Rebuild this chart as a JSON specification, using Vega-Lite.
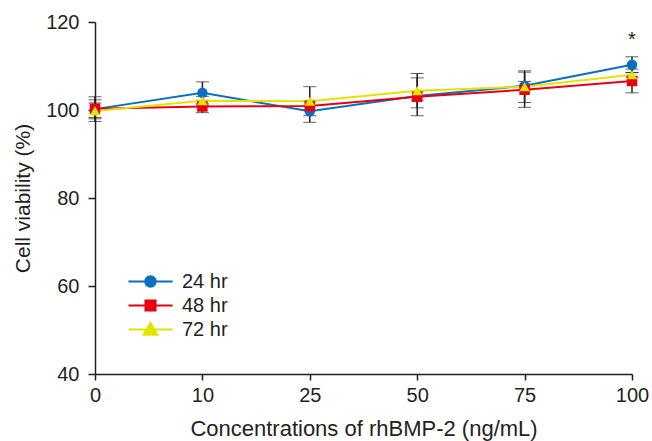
{
  "$schema": "https://vega.github.io/schema/vega-lite/v6.json",
  "width": 537,
  "height": 352,
  "autosize": {"type": "none"},
  "padding": {"left": 95, "top": 22, "right": 20, "bottom": 67},
  "background": "white",
  "config": {
    "view": {"stroke": null},
    "font": "Liberation Sans",
    "legend": {"padding": 0}
  },
  "resolve": {"legend": {"color": "independent", "shape": "independent"}},
  "data": {
    "values": [
      {"conc": "0", "series": "24 hr", "v": 100.2, "lo": 97.4, "hi": 103.0},
      {"conc": "10", "series": "24 hr", "v": 103.9, "lo": 101.4, "hi": 106.4},
      {"conc": "25", "series": "24 hr", "v": 99.7, "lo": 97.2, "hi": 102.2},
      {"conc": "50", "series": "24 hr", "v": 103.2, "lo": 102.2, "hi": 104.2},
      {"conc": "75", "series": "24 hr", "v": 105.5, "lo": 104.5, "hi": 106.5},
      {"conc": "100", "series": "24 hr", "v": 110.3, "lo": 108.5, "hi": 112.1},
      {"conc": "0", "series": "48 hr", "v": 100.3, "lo": 98.3, "hi": 102.3},
      {"conc": "10", "series": "48 hr", "v": 100.8, "lo": 99.4, "hi": 102.2},
      {"conc": "25", "series": "48 hr", "v": 100.9, "lo": 99.9, "hi": 101.9},
      {"conc": "50", "series": "48 hr", "v": 103.0, "lo": 98.7, "hi": 107.3},
      {"conc": "75", "series": "48 hr", "v": 104.6, "lo": 100.6, "hi": 108.6},
      {"conc": "100", "series": "48 hr", "v": 106.6, "lo": 103.9, "hi": 109.3},
      {"conc": "0", "series": "72 hr", "v": 99.8, "lo": 98.0, "hi": 101.6},
      {"conc": "10", "series": "72 hr", "v": 102.1, "lo": 101.1, "hi": 103.1},
      {"conc": "25", "series": "72 hr", "v": 102.0, "lo": 98.7, "hi": 105.3},
      {"conc": "50", "series": "72 hr", "v": 104.4, "lo": 100.5, "hi": 108.3},
      {"conc": "75", "series": "72 hr", "v": 105.3, "lo": 101.7, "hi": 108.9},
      {"conc": "100", "series": "72 hr", "v": 108.0, "lo": 107.5, "hi": 108.5}
    ]
  },
  "encoding": {
    "x": {
      "field": "conc", "type": "ordinal",
      "sort": ["0", "10", "25", "50", "75", "100"],
      "scale": {"type": "point", "padding": 0},
      "axis": {"title": "Concentrations of rhBMP-2 (ng/mL)", "labelAngle": 0, "tickSize": 6, "labelPadding": 5, "titlePadding": 13,
        "grid": false, "domainColor": "#231f20", "tickColor": "#231f20", "labelColor": "#231f20", "titleColor": "#231f20",
        "labelFont": "Liberation Sans", "titleFont": "Liberation Sans", "titleFontWeight": "normal", "labelFontSize": 20, "titleFontSize": 22, "domainWidth": 1.5, "tickWidth": 1.5}
    }
  },
  "layer": [
    {
      "mark": {"type": "errorbar", "ticks": {"size": 13, "color": "#231f20", "strokeWidth": 1.5}, "rule": {"color": "#231f20", "strokeWidth": 1.5}},
      "encoding": {
        "y": {"field": "lo", "type": "quantitative", "scale": {"domain": [40, 120]}, "axis": {"title": "Cell viability (%)", "values": [40, 60, 80, 100, 120], "tickSize": 7, "labelPadding": 9, "titlePadding": 12,
          "grid": false, "domainColor": "#231f20", "tickColor": "#231f20", "labelColor": "#231f20", "titleColor": "#231f20",
          "labelFont": "Liberation Sans", "titleFont": "Liberation Sans", "titleFontWeight": "normal", "labelFontSize": 20, "titleFontSize": 21, "domainWidth": 1.5, "tickWidth": 1.5}},
        "y2": {"field": "hi"},
        "detail": {"field": "series"}
      }
    },
    {
      "mark": {"type": "line", "strokeWidth": 2},
      "encoding": {
        "y": {"field": "v", "type": "quantitative"},
        "color": {"field": "series", "type": "nominal", "scale": {"domain": ["24 hr", "48 hr", "72 hr"], "range": ["#0b6fc0", "#e60012", "#e2e400"]},
          "legend": {
            "title": null, "orient": "none", "legendX": 44, "legendY": 248,
            "symbolSize": 441, "labelFontSize": 20, "labelColor": "#231f20", "labelFont": "Liberation Sans", "labelOffset": 20, "rowPadding": 2,
            "encode": {"symbols": {"update": {
              "shape": {"signal": "datum.value === '24 hr' ? 'M-2.1,0H2.1M0.5,0A0.5,0.5,0,1,1,-0.5,0A0.5,0.5,0,1,1,0.5,0Z' : datum.value === '48 hr' ? 'M-2.1,0H2.1M-0.48,-0.48H0.48V0.48H-0.48Z' : 'M-2.1,0H2.1M0,-0.62L0.66,0.5H-0.66Z'"},
              "stroke": {"signal": "datum.value === '24 hr' ? '#0b6fc0' : datum.value === '48 hr' ? '#e60012' : '#e2e400'"},
              "fill": {"signal": "datum.value === '24 hr' ? '#0b6fc0' : datum.value === '48 hr' ? '#e60012' : '#e2e400'"},
              "strokeWidth": {"value": 2},
              "opacity": {"value": 1}
            }}}
          }}
      }
    },
    {
      "mark": {"type": "point", "filled": true, "opacity": 1},
      "encoding": {
        "y": {"field": "v", "type": "quantitative"},
        "color": {"field": "series", "type": "nominal", "legend": null},
        "shape": {"field": "series", "type": "nominal", "scale": {"domain": ["24 hr", "48 hr", "72 hr"], "range": ["circle", "square", "triangle-up"]}, "legend": null},
        "size": {"value": 110}
      }
    },
    {
      "data": {"values": [{"conc": "100", "v": 115.8, "label": "*"}]},
      "mark": {"type": "text", "fontSize": 20, "color": "#231f20", "baseline": "middle"},
      "encoding": {
        "y": {"field": "v", "type": "quantitative"},
        "text": {"field": "label"}
      }
    }
  ]
}
